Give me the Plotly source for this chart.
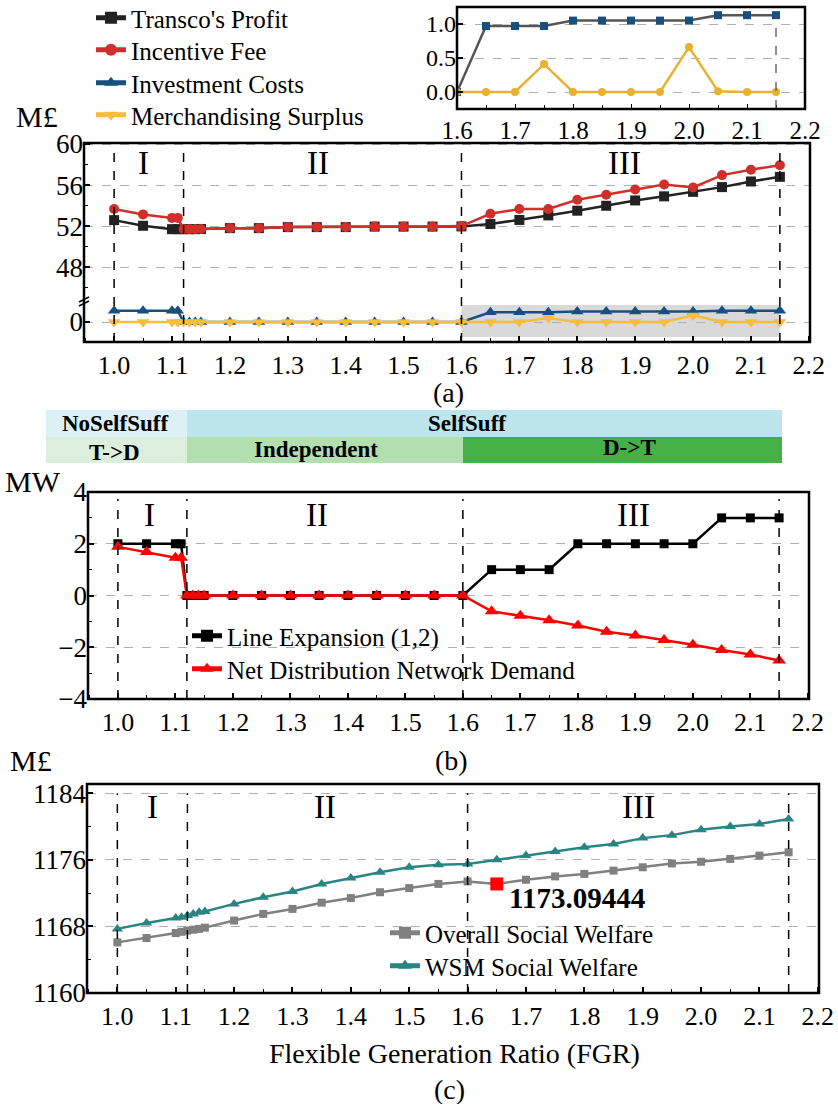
import plotly.graph_objects as go

W, H = 838, 1104
FONT = "Times New Roman, Liberation Serif, serif"

# ---------------- data ----------------
fgr = [1.0, 1.05, 1.1, 1.11, 1.12, 1.13, 1.14, 1.15, 1.2, 1.25, 1.3, 1.35, 1.4, 1.45,
       1.5, 1.55, 1.6, 1.65, 1.7, 1.75, 1.8, 1.85, 1.9, 1.95, 2.0, 2.05, 2.1, 2.15]

transco_profit = [52.58, 52.03, 51.70, 51.70, 51.70, 51.70, 51.70, 51.72, 51.80, 51.80,
                  51.90, 51.90, 51.90, 51.95, 51.95, 51.95, 51.97, 52.20, 52.60, 53.04,
                  53.50, 53.98, 54.50, 54.90, 55.34, 55.80, 56.35, 56.80]
incentive_fee = [53.66, 53.14, 52.80, 52.80, 51.70, 51.70, 51.70, 51.72, 51.80, 51.80,
                 51.90, 51.90, 51.90, 51.95, 51.95, 51.95, 52.00, 53.20, 53.66, 53.66,
                 54.56, 55.05, 55.57, 56.05, 55.77, 56.97, 57.50, 57.94]
investment_costs = [1.12, 1.12, 1.12, 1.12, 0, 0, 0, 0, 0, 0, 0, 0, 0, 0, 0, 0, 0,
                    0.97, 0.97, 0.97, 1.05, 1.05, 1.05, 1.05, 1.05, 1.13, 1.13, 1.13]
merch_surplus = [0, 0, 0, 0, 0, 0, 0, 0, 0, 0, 0, 0, 0, 0, 0, 0, 0,
                 0, 0, 0.41, 0, 0, 0, 0, 0.66, 0.01, 0, 0]

line_expansion = [2, 2, 2, 2, 0, 0, 0, 0, 0, 0, 0, 0, 0, 0, 0, 0, 0,
                  1, 1, 1, 2, 2, 2, 2, 2, 3, 3, 3]
net_dist_demand = [1.88, 1.68, 1.46, 1.46, 0, 0, 0, 0, 0, 0, 0, 0, 0, 0, 0, 0, 0,
                   -0.61, -0.78, -0.96, -1.16, -1.40, -1.55, -1.72, -1.90, -2.11, -2.28, -2.51]

overall_sw = [1166.08, 1166.6, 1167.2, 1167.35, 1167.5, 1167.6, 1167.7, 1167.85, 1168.7,
              1169.5, 1170.1, 1170.85, 1171.4, 1172.1, 1172.6, 1173.1, 1173.4, 1173.09444,
              1173.6, 1174.0, 1174.3, 1174.7, 1175.1, 1175.56, 1175.76, 1176.1, 1176.5, 1176.9]
wsm_sw = [1167.7, 1168.4, 1169.0, 1169.1, 1169.3, 1169.5, 1169.7, 1169.8, 1170.7, 1171.5,
          1172.2, 1173.1, 1173.8, 1174.5, 1175.1, 1175.4, 1175.48, 1176.0, 1176.5, 1177.0,
          1177.5, 1177.9, 1178.6, 1178.96, 1179.6, 1180.0, 1180.3, 1180.9]

highlight_x = [1.65]
highlight_y = [1173.09444]
highlight_label = "1173.09444"

region_bounds = [1.0, 1.12, 1.6, 2.15]
region_names = ["I", "II", "III"]
inset_start = 16  # index of FGR = 1.6

band_top = ["NoSelfSuff", "SelfSuff"]
band_bottom = ["T->D", "Independent", "D->T"]

# ---------------- helpers ----------------
def xd(a, b):
    return [a / W, b / W]

def yd(top, bottom):
    return [1 - bottom / H, 1 - top / H]

def px(x):
    return x / W

def py(y):
    return 1 - y / H

tickfont = dict(family=FONT, size=27, color="black")
xtickfont = dict(family=FONT, size=26, color="black")

def xaxis_cfg(domain, anchor, rng=(0.948, 2.202), font=xtickfont):
    return dict(domain=domain, anchor=anchor, range=list(rng), tick0=1.0, dtick=0.1,
                tickformat=".1f", ticks="inside", ticklen=6, tickwidth=1.5, tickcolor="black",
                showgrid=False, zeroline=False, showline=False, tickfont=font,
                ticklabelstandoff=5,
                minor=dict(dtick=0.05, ticks="inside", ticklen=4, tickwidth=1.2, tickcolor="black"))

def yaxis_cfg(domain, anchor, rng, dtick, minor_dtick, font=tickfont, grid=True, fmt=None):
    d = dict(domain=domain, anchor=anchor, range=list(rng), tick0=0, dtick=dtick,
             ticks="inside", ticklen=6, tickwidth=1.5, tickcolor="black",
             showgrid=grid, gridcolor="#b0b0b0", griddash="dash", gridwidth=1,
             zeroline=False, showline=False, tickfont=font)
    if minor_dtick:
        d["minor"] = dict(dtick=minor_dtick, tick0=0, ticks="inside", ticklen=4,
                          tickwidth=1.2, tickcolor="black")
    if fmt:
        d["tickformat"] = fmt
    return d

fig = go.Figure()

BLACK = "#222222"
RED = "#d0302a"
BLUE = "#17507f"
YELLOW = "#f7bd3c"

# ---------------- panel (a) ----------------
fig.add_trace(go.Scatter(x=fgr, y=transco_profit, name="Transco's Profit", mode="lines+markers",
                         line=dict(color=BLACK, width=2.5), marker=dict(symbol="square", size=10),
                         xaxis="x", yaxis="y", legend="legend"))
fig.add_trace(go.Scatter(x=fgr, y=incentive_fee, name="Incentive Fee", mode="lines+markers",
                         line=dict(color=RED, width=2.5), marker=dict(symbol="circle", size=10),
                         xaxis="x", yaxis="y", legend="legend4"))
fig.add_trace(go.Scatter(x=fgr, y=investment_costs, name="Investment Costs", mode="lines+markers",
                         line=dict(color=BLUE, width=2.5), marker=dict(symbol="triangle-up", size=11),
                         xaxis="x", yaxis="y2", legend="legend5"))
fig.add_trace(go.Scatter(x=fgr, y=merch_surplus, name="Merchandising Surplus", mode="lines+markers",
                         line=dict(color=YELLOW, width=2.5), marker=dict(symbol="triangle-down", size=11),
                         xaxis="x", yaxis="y2", legend="legend6"))

# inset
fig.add_trace(go.Scatter(x=fgr[inset_start:], y=investment_costs[inset_start:], mode="lines+markers",
                         line=dict(color="#555555", width=2.5),
                         marker=dict(symbol="square", size=8, color=BLUE),
                         xaxis="x4", yaxis="y5", showlegend=False))
fig.add_trace(go.Scatter(x=fgr[inset_start:], y=merch_surplus[inset_start:], mode="lines+markers",
                         line=dict(color="#e8b130", width=2.5),
                         marker=dict(symbol="circle", size=8, color="#e8b130"),
                         xaxis="x4", yaxis="y5", showlegend=False))

# ---------------- panel (b) ----------------
fig.add_trace(go.Scatter(x=fgr, y=line_expansion, name="Line Expansion (1,2)", mode="lines+markers",
                         line=dict(color="black", width=2.5), marker=dict(symbol="square", size=9),
                         xaxis="x2", yaxis="y3", legend="legend2"))
fig.add_trace(go.Scatter(x=fgr, y=net_dist_demand, name="Net Distribution Network Demand",
                         mode="lines+markers",
                         line=dict(color="#ff0000", width=2.5), marker=dict(symbol="triangle-up", size=12),
                         xaxis="x2", yaxis="y3", legend="legend7"))

# ---------------- panel (c) ----------------
fig.add_trace(go.Scatter(x=fgr, y=overall_sw, name="Overall Social Welfare", mode="lines+markers",
                         line=dict(color="#808080", width=2.5), marker=dict(symbol="square", size=8),
                         xaxis="x3", yaxis="y4", legend="legend3"))
fig.add_trace(go.Scatter(x=fgr, y=wsm_sw, name="WSM Social Welfare", mode="lines+markers",
                         line=dict(color="#2a8582", width=2.5), marker=dict(symbol="triangle-up", size=10),
                         xaxis="x3", yaxis="y4", legend="legend8"))
fig.add_trace(go.Scatter(x=highlight_x, y=highlight_y, mode="markers",
                         marker=dict(symbol="square", size=13, color="#ff0000"),
                         xaxis="x3", yaxis="y4", showlegend=False))

# ---------------- axes ----------------
PA = (84, 810, 143, 342)
PA_BREAK = 302
PB = (88, 809, 492, 699)
PC = (87, 819, 784, 993)
PI = (457, 805, 7, 109)

legfont = dict(family=FONT, size=25, color="black")

def leg(x, yc):
    # one legend row whose text starts at pixel x and is centred at pixel yc
    return dict(x=px(x - 40), y=py(yc - 25), xanchor="left", yanchor="top",
                bgcolor="rgba(0,0,0,0)", font=legfont, itemsizing="constant")

layout = dict(
    width=W, height=H, margin=dict(l=0, r=0, t=0, b=0, autoexpand=False),
    paper_bgcolor="white", plot_bgcolor="white",
    font=dict(family=FONT, color="black"),
    xaxis=xaxis_cfg(xd(PA[0], PA[1]), "y2"),
    yaxis=yaxis_cfg(yd(PA[2], PA_BREAK), "x", (44.6, 60.1), 4, 2),
    yaxis2=yaxis_cfg(yd(PA_BREAK, PA[3]), "x", (-2, 2), 4, None),
    xaxis2=xaxis_cfg(xd(PB[0], PB[1]), "y3"),
    yaxis3=yaxis_cfg(yd(PB[2], PB[3]), "x2", (-4, 4), 2, 1),
    xaxis3=xaxis_cfg(xd(PC[0], PC[1]), "y4"),
    yaxis4=yaxis_cfg(yd(PC[2], PC[3]), "x3", (1160, 1185.1), 8, 4),
    xaxis4=dict(domain=xd(PI[0], PI[1]), anchor="y5", range=[1.6, 2.2], tick0=1.6, dtick=0.1,
                tickformat=".1f", ticks="inside", ticklen=5, tickcolor="black", showgrid=False,
                zeroline=False, tickfont=dict(family=FONT, size=25, color="black"),
                ticklabelstandoff=4,
                minor=dict(dtick=0.05, ticks="inside", ticklen=4, tickcolor="black")),
    yaxis5=yaxis_cfg(yd(PI[2], PI[3]), "x4", (-0.25, 1.25), 0.5, None,
                     font=dict(family=FONT, size=24, color="black"), fmt=".1f"),
    legend=leg(131, 20),
    legend4=leg(131, 52),
    legend5=leg(131, 85),
    legend6=leg(131, 117),
    legend2=leg(227, 638),
    legend7=leg(227, 671),
    legend3=leg(425, 935),
    legend8=leg(425, 968),
)
fig.update_layout(**layout)

# ---------------- shapes ----------------
shapes = []
shapes.append(dict(type="rect", xref="x", yref="y2", x0=region_bounds[2], x1=region_bounds[3],
                   y0=-1.5, y1=1.7, fillcolor="#d9d9d9", line=dict(width=0), layer="below"))
for xb in region_bounds:
    shapes.append(dict(type="line", xref="x", yref="paper", x0=xb, x1=xb, y0=py(PA[3]), y1=py(147),
                       line=dict(color="black", width=1.5, dash="dash"), layer="above"))
    shapes.append(dict(type="line", xref="x2", yref="paper", x0=xb, x1=xb, y0=py(PB[3]), y1=py(499),
                       line=dict(color="black", width=1.5, dash="dash"), layer="above"))
    shapes.append(dict(type="line", xref="x3", yref="y4", x0=xb, x1=xb, y0=1160, y1=1184,
                       line=dict(color="black", width=1.5, dash="dash"), layer="above"))
shapes.append(dict(type="line", xref="x4", yref="y5", x0=region_bounds[3], x1=region_bounds[3],
                   y0=-0.25, y1=1.13, line=dict(color="#555555", width=1.3, dash="dash")))
for (l, r, t, b) in (PA, PB, PC, PI):
    shapes.append(dict(type="rect", xref="paper", yref="paper", x0=px(l), x1=px(r), y0=py(b), y1=py(t),
                       line=dict(color="black", width=2.5), fillcolor="rgba(0,0,0,0)", layer="above"))
for off in (0, 4):
    shapes.append(dict(type="line", xref="paper", yref="paper", x0=px(79), x1=px(89),
                       y0=py(302 + off), y1=py(297 + off), line=dict(color="black", width=1.8)))
band_rects = [
    (46, 187, 410, 437, "#dcf0f5"), (187, 782, 410, 437, "#bde5ec"),
    (46, 187, 437, 463, "#dcefdc"), (187, 463, 437, 463, "#b2dfb0"), (463, 782, 437, 463, "#45b045"),
]
for (l, r, t, b, c) in band_rects:
    shapes.append(dict(type="rect", xref="paper", yref="paper", x0=px(l), x1=px(r), y0=py(b), y1=py(t),
                       fillcolor=c, line=dict(width=0), layer="below"))
fig.update_layout(shapes=shapes)

# ---------------- annotations ----------------
anns = []

def ann(text, x, y, size, bold=False, xanchor="center"):
    t = f"<b>{text}</b>" if bold else text
    anns.append(dict(text=t, x=px(x), y=py(y), xref="paper", yref="paper", showarrow=False,
                     xanchor=xanchor, yanchor="middle", font=dict(family=FONT, size=size, color="black")))

ann("M£", 37, 117, 30)
ann("MW", 33, 481, 30)
ann("M£", 31, 760, 30)
ann("(a)", 448, 393, 28)
ann("(b)", 451, 760, 28)
ann("(c)", 449, 1089, 28)
ann("Flexible Generation Ratio (FGR)", 454, 1053, 28)

for yy, xs in ((163, (143, 318, 624)), (515, (149, 317, 633)), (807, (152, 325, 638))):
    for name, xx in zip(region_names, xs):
        ann(name, xx, yy, 33)

ann(band_top[0], 115, 423, 23, bold=True)
ann(band_top[1], 467, 424, 23, bold=True)
ann(band_bottom[0], 115, 452, 23, bold=True)
ann(band_bottom[1], 316, 450, 23, bold=True)
ann(band_bottom[2], 629, 447, 23, bold=True)

anns.append(dict(text=f"<b>{highlight_label}</b>", x=highlight_x[0], y=highlight_y[0],
                 xref="x3", yref="y4", showarrow=False, xanchor="left", yanchor="middle",
                 xshift=10, yshift=-14, font=dict(family=FONT, size=29, color="black")))
fig.update_layout(annotations=anns)

fig.write_html("out.html")
